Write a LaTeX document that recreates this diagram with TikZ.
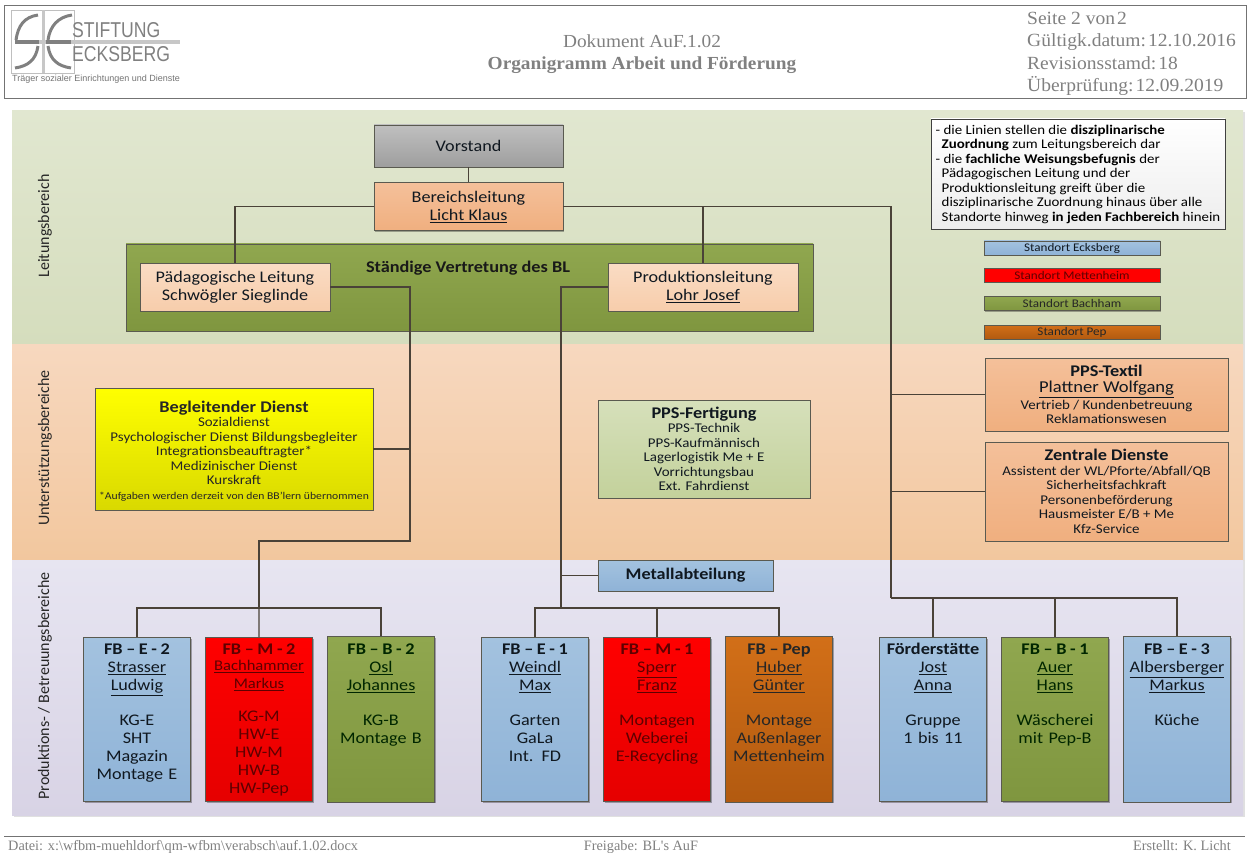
\documentclass[tikz,border=0pt]{standalone}
\usepackage{fontspec}
\setmainfont[FakeStretch=1.12]{Carlito}
\newfontfamily\plainlabel{Carlito}
\newfontfamily\serifhead[FakeStretch=1.05]{Liberation Serif}
\newfontfamily\serifplain{Liberation Serif}
\newfontfamily\logofont[FakeStretch=0.82]{Liberation Sans}
\newfontfamily\logosmall{Liberation Sans}
\usetikzlibrary{positioning, shadows}

\definecolor{linecol}{HTML}{4A4238}
\definecolor{edgecol}{HTML}{5A5A50}
\definecolor{headgray}{HTML}{808080}
\definecolor{ltext}{HTML}{101820}
\definecolor{redtext}{HTML}{5E0000}
\definecolor{fbblueA}{HTML}{A3C2DF}
\definecolor{fbblueB}{HTML}{8FB3D7}
\definecolor{fbgreenA}{HTML}{90A74F}
\definecolor{fbgreenB}{HTML}{7F963F}
\definecolor{fbpepA}{HTML}{D26F18}
\definecolor{fbpepB}{HTML}{B25A10}
\definecolor{bandgA}{HTML}{E1E7D0}
\definecolor{bandgB}{HTML}{D5DDBD}
\definecolor{bandoA}{HTML}{F7D8BF}
\definecolor{bandoB}{HTML}{F2C79E}
\definecolor{bandlA}{HTML}{E7E5F1}
\definecolor{bandlB}{HTML}{D8D3E5}
\definecolor{orgA}{HTML}{F4C09A}
\definecolor{orgB}{HTML}{F0AF7F}
\definecolor{prodA}{HTML}{FADCC4}
\definecolor{prodB}{HTML}{F7CDAB}
\definecolor{fertA}{HTML}{D6E0BB}
\definecolor{fertB}{HTML}{C3D19B}

\newcommand{\fsize}[2]{\fontsize{#1}{#2}\selectfont}
\newcommand{\fbhead}[1]{{\fsize{16.3}{18}\bfseries\spaceskip=3.6pt #1}}
\newcommand{\boxhead}[1]{{\fsize{16.3}{18}\bfseries #1}}

\begin{document}
\begin{tikzpicture}[
    x=1pt, y=-1pt,
    node distance=14pt and 14pt,
    box/.style={rectangle, draw=edgecol, line width=0.8pt, inner sep=0pt, align=center, text=ltext,
        drop shadow={shadow xshift=1.2pt, shadow yshift=-1.2pt, opacity=0.3, fill=black}},
    band/.style={rectangle, inner sep=0pt, minimum width=1231pt, anchor=north west,
        drop shadow={shadow xshift=2pt, shadow yshift=-2pt, opacity=0.12, fill=black}},
    bandlabel/.style={rotate=90, font=\plainlabel\fsize{16}{18}, text=black!85},
    link/.style={draw=linecol, line width=1.2pt},
    fbbox/.style={box, minimum height=164pt, text width=107.2pt,
        text height=14pt, text depth=143pt, font=\fsize{16.2}{18}, anchor=north west},
    fbblue/.style={fbbox, top color=fbblueA, bottom color=fbblueB, text=ltext},
    fbred/.style={fbbox, top color=red, bottom color=red!90!black, text=redtext},
    fbgreen/.style={fbbox, top color=fbgreenA, bottom color=fbgreenB, text=black!85!green},
    fbpepper/.style={fbbox, top color=fbpepA, bottom color=fbpepB, text=black!85},
    standort/.style={rectangle, draw=edgecol, line width=0.7pt, inner sep=0pt, minimum width=176pt, minimum height=14pt,
        font=\fsize{11.7}{13}, drop shadow={shadow xshift=1pt, shadow yshift=-1pt, opacity=0.3, fill=black}},
    head/.style={font=\serifhead\fsize{18.6}{22}, text=headgray, inner sep=0pt, anchor=base west},
    foot/.style={font=\serifplain\fsize{14.3}{16}, text=headgray, inner sep=0pt}
]
    \useasboundingbox (0,0) rectangle (1253,853);

    % page head
    \draw[gray!45, line width=1pt] (0,0) -- (1253,0);
    \draw[draw=black!55, line width=0.8pt] (4,5) rectangle (1246,98);
    \draw[draw=black!25, line width=0.8pt] (11,10) rectangle (74,73);
    \fill[black!22] (41.5,10) rectangle (45,73);
    \fill[black!22] (15,40.5) rectangle (180,44);
    \fill[black!50] (15,40.5) rectangle (39,44);
    \fill[black!50] (46,40.5) rectangle (71,44);
    \draw[black!50, line width=3pt] (38,15) .. controls (24,17) and (18,26) .. (16,40);
    \draw[black!50, line width=3pt] (38,46) .. controls (36,60) and (28,66) .. (15,68);
    \draw[black!50, line width=3pt] (72,15) .. controls (58,17) and (50,26) .. (48,40);
    \draw[black!50, line width=3pt] (48,46) .. controls (50,60) and (58,66) .. (71,68);
    \node[font=\logofont\fsize{21.5}{23}, text=black!50, inner sep=0pt, anchor=west] (stiftung) at (72,30) {STIFTUNG};
    \node[font=\logofont\fsize{21.5}{23}, text=black!50, inner sep=0pt, anchor=west] (ecksberg) at (72,54) {ECKSBERG};
    \node[font=\logosmall\fsize{9}{10}, text=black!55, inner sep=0pt, anchor=west] (traeger) at (12,79) {Träger sozialer Einrichtungen und Dienste};
    \node[font=\serifhead\fsize{18.4}{22}, text=headgray, inner sep=0pt, align=center] (titel) at (642,54)
        {Dokument AuF.1.02\\\textbf{Organigramm Arbeit und Förderung}};
    \node[head] (seite) at (1027,25) {Seite 2 von\hspace{2pt}2};
    \node[head] (datum) at (1027,47) {Gültigk.datum:\hspace{2pt}12.10.2016};
    \node[head] (revision) at (1027,69.5) {Revisionsstamd:\hspace{2pt}18};
    \node[head] (pruefung) at (1027,92) {Überprüfung:\hspace{2pt}12.09.2019};

    % bands
    \node[band, minimum height=234pt, top color=bandgA, bottom color=bandgB] (leitung) at (12,110) {};
    \node[band, minimum height=216pt, top color=bandoA, bottom color=bandoB] (unterst) at (12,344) {};
    \node[band, minimum height=255pt, top color=bandlA, bottom color=bandlB] (produkt) at (12,560) {};
    \node[bandlabel] (leitunglabel) at (45,226) {Leitungsbereich};
    \node[bandlabel] (unterstlabel) at (45,448) {Unterstützungsbereiche};
    \node[bandlabel] (produktlabel) at (45,686) {Produktions- / Betreuungsbereiche};

    % Leitungsbereich
    \node[box, minimum width=189pt, minimum height=42pt, top color=black!25, bottom color=black!38, font=\fsize{16.2}{18}] (vorstand) at (468.5,146) {Vorstand};
    \node[box, minimum width=189pt, minimum height=48pt, top color=orgA, bottom color=orgB, font=\fsize{16.2}{18}, below=15pt of vorstand] (bl) {Bereichsleitung\\\underline{Licht Klaus}};
    \node[box, minimum width=687pt, minimum height=87pt, top color=fbgreenA, bottom color=fbgreenB] (vertretung) at (469.5,287.5) {};
    \node[font=\fsize{16.3}{18}\bfseries, text=black!90, inner sep=0pt] (vertrtitel) at (468,268) {Ständige Vertretung des BL};
    \node[box, minimum width=190pt, minimum height=48pt, top color=prodA, bottom color=prodB, font=\fsize{16.2}{18}] (paed) at (235,287) {Pädagogische Leitung\\Schwögler Sieglinde};
    \node[box, minimum width=190pt, minimum height=48pt, top color=prodA, bottom color=prodB, font=\fsize{16.2}{18}] (prod) at (703,287) {Produktionsleitung\\\underline{Lohr Josef}};

    \node[box, minimum width=294pt, minimum height=110pt, top color=white, bottom color=black!7, draw=black!75, font=\fsize{13.3}{14.5}, align=left, text=black] (hinweis) at (1078,174)
        {- die Linien stellen die \textbf{disziplinarische}\\
        \hspace*{6pt}\textbf{Zuordnung} zum Leitungsbereich dar\\
        - die \textbf{fachliche Weisungsbefugnis} der\\
        \hspace*{6pt}Pädagogischen Leitung und der\\
        \hspace*{6pt}Produktionsleitung greift über die\\
        \hspace*{6pt}disziplinarische Zuordnung hinaus über alle\\
        \hspace*{6pt}Standorte hinweg \textbf{in jeden Fachbereich} hinein};

    \node[standort, top color=fbblueA, bottom color=fbblueB, text=ltext] (eck) at (1072,248) {Standort Ecksberg};
    \node[standort, top color=red, bottom color=red, text=redtext] (mett) at (1072,275) {Standort Mettenheim};
    \node[standort, top color=fbgreenA, bottom color=fbgreenB, text=black!85] (bach) at (1072,303.5) {Standort Bachham};
    \node[standort, top color=fbpepA, bottom color=fbpepB, text=black!85] (pep) at (1072,332) {Standort Pep};

    % Unterstuetzungsbereiche
    \node[box, minimum width=278pt, minimum height=122pt, top color=yellow, bottom color=yellow!85!black, font=\fsize{13.35}{14.5}, text=black!85] (begl) at (234,449)
        {\rule{0pt}{15pt}\boxhead{Begleitender Dienst}\\
        Sozialdienst\\Psychologischer Dienst Bildungsbegleiter\\Integrationsbeauftragter*\\Medizinischer Dienst\\Kurskraft\\
        {\fsize{10.4}{14}*Aufgaben werden derzeit von den BB'lern übernommen}};
    \node[box, minimum width=212pt, minimum height=98pt, top color=fertA, bottom color=fertB, font=\fsize{13.35}{14.5}] (fert) at (704,449)
        {\boxhead{PPS-Fertigung}\\
        PPS-Technik\\PPS-Kaufmännisch\\Lagerlogistik Me + E\\Vorrichtungsbau\\Ext. Fahrdienst};
    \node[box, minimum width=243pt, minimum height=73pt, top color=orgA, bottom color=orgB, font=\fsize{13.35}{14.5}] (textil) at (1106.5,394.5)
        {\boxhead{PPS-Textil}\\[2pt]
        {\fsize{16.6}{18}\underline{Plattner Wolfgang}}\\[2pt]Vertrieb / Kundenbetreuung\\Reklamationswesen};
    \node[box, minimum width=243pt, minimum height=99pt, top color=orgA, bottom color=orgB, font=\fsize{13.35}{14.5}] (zentral) at (1106.5,491.5)
        {\boxhead{Zentrale Dienste}\\
        Assistent der WL/Pforte/Abfall/QB\\Sicherheitsfachkraft\\Personenbeförderung\\Hausmeister E/B + Me\\Kfz-Service};

    % Fachbereiche
    \node[box, minimum width=175pt, minimum height=31pt, top color=fbblueA, bottom color=fbblueB, font=\fsize{16.2}{18}\bfseries] (metall) at (685.5,575.5) {Metallabteilung};

    \node[fbblue] (fbeII) at (83,637) {\fbhead{FB -- E - 2}\\\underline{Strasser}\\\underline{Ludwig}\\[17pt]KG-E\\SHT\\Magazin\\Montage E};
    \node[fbred, right=of fbeII] (fbmII) {\fbhead{FB -- M - 2}\\{\fsize{14.8}{16}\underline{Bachhammer}\\\underline{Markus}}\\[15pt]KG-M\\HW-E\\HW-M\\HW-B\\HW-Pep};
    \node[fbgreen, minimum height=165.5pt, right=of fbmII] (fbbII) {\fbhead{FB -- B - 2}\\\underline{Osl}\\\underline{Johannes}\\[17pt]KG-B\\Montage B};

    \node[fbblue] (fbeI) at (481,637) {\fbhead{FB -- E - 1}\\\underline{Weindl}\\\underline{Max}\\[17pt]Garten\\GaLa\\Int. FD};
    \node[fbred, right=of fbeI] (fbmI) {\fbhead{FB -- M - 1}\\\underline{Sperr}\\\underline{Franz}\\[17pt]Montagen\\Weberei\\E-Recycling};
    \node[fbpepper, minimum height=165.5pt, right=of fbmI] (fbpep) {\fbhead{FB -- Pep}\\\underline{Huber}\\\underline{Günter}\\[17pt]Montage\\Außenlager\\Mettenheim};

    \node[fbblue] (foerder) at (879,637) {\fbhead{Förderstätte}\\\underline{Jost}\\\underline{Anna}\\[17pt]Gruppe\\1 bis 11};
    \node[fbgreen, right=of foerder] (fbbI) {\fbhead{FB -- B - 1}\\\underline{Auer}\\\underline{Hans}\\[17pt]Wäscherei\\mit Pep-B};
    \node[fbblue, minimum height=165.5pt, right=of fbbI] (fbeIII) {\fbhead{FB -- E - 3}\\\underline{Albersberger}\\\underline{Markus}\\[17pt]Küche};

    % connectors
    \coordinate (turnleft) at (410,541);
    \coordinate (busleft) at (259,608);
    \coordinate (busmid) at (561,608);
    \coordinate (busright) at (891,598);

    \draw[link] (vorstand) -- (bl);
    \draw[link] (bl.west) -| (paed.north);
    \draw[link] (bl.east) -| (busright);
    \draw[link] (bl.east -| prod.north) -- (prod.north);
    \draw[link] (textil.west -| busright) -- (textil.west);
    \draw[link] (zentral.west -| busright) -- (zentral.west);
    \draw[link] (foerder.north) |- (busright);
    \draw[link] (busright) -| (fbbI.north);
    \draw[link] (busright) -| (fbeIII.north);

    \draw[link] (paed.east) -| (turnleft) -| (busleft);
    \draw[link] (begl.east) -- (begl.east -| turnleft);
    \draw[link] (fbeII.north) |- (busleft) -| (fbbII.north);
    \draw[link] (busleft) -- (fbmII.north);

    \draw[link] (prod.west) -| (busmid);
    \draw[link] (metall.west) -- (metall.west -| busmid);
    \draw[link] (fbeI.north) |- (busmid) -| (fbpep.north);
    \draw[link] (fbmI.north) |- (busmid);

    % page foot
    \draw[draw=black!55, line width=0.8pt] (4,836) -- (1245,836);
    \node[foot, anchor=base west] (datei) at (8,850.5) {Datei: x:\textbackslash wfbm-muehldorf\textbackslash qm-wfbm\textbackslash verabsch\textbackslash auf.1.02.docx};
    \node[foot, anchor=base] (freigabe) at (641,850.5) {Freigabe: BL's AuF};
    \node[foot, anchor=base east] (erstellt) at (1231,850.5) {Erstellt: K. Licht};
\end{tikzpicture}
\end{document}
